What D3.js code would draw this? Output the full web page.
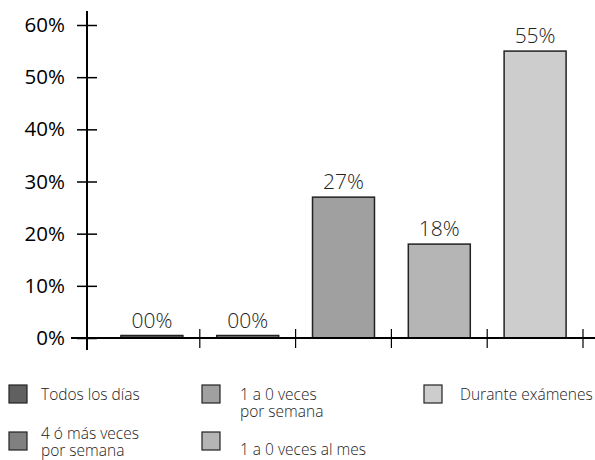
<!DOCTYPE html>
<html>
<head>
<meta charset="utf-8">
<script src="https://cdn.jsdelivr.net/npm/d3@7/dist/d3.min.js"></script>
<style>
  html, body { margin: 0; padding: 0; background: #fff; }
  svg { display: block; }
  .ylab { font-family: "Open Sans", "DejaVu Sans", sans-serif; font-size: 20.5px; fill: #000; }
  .val, .leg { font-family: "Open Sans", "DejaVu Sans", sans-serif; font-weight: 300; fill: #222; }
  .val { font-size: 21px; }
  .leg { font-size: 15.5px; }
</style>
</head>
<body>
<svg id="chart" width="595" height="460"></svg>
<script>
// Frecuencia de uso: porcentaje por categoría
const categories = ["Todos los días", "4 ó más veces por semana", "1 a 0 veces por semana", "1 a 0 veces al mes", "Durante exámenes"];
const values = [0, 0, 27, 18, 55];
const valueLabels = ["00%", "00%", "27%", "18%", "55%"];
const colors = ["#606060", "#808080", "#a0a0a0", "#b5b5b5", "#cdcdcd"];
const yTicks = [0, 10, 20, 30, 40, 50, 60];

// Legend entries (text lines as drawn)
const legendLines = [
  ["Todos los días"],
  ["4 ó más veces", "por semana"],
  ["1 a 0 veces", "por semana"],
  ["1 a 0 veces al mes"],
  ["Durante exámenes"]
];

const svg = d3.select("#chart");

const y = d3.scaleLinear().domain([0, 60]).range([338, 25]);
const x = d3.scaleBand().domain(categories).range([104, 583])
  .paddingInner(0.353).paddingOuter(0.1765);

// Y axis with ticks crossing the axis line
const yAxis = svg.append("g").attr("transform", "translate(87,0)")
  .call(d3.axisLeft(y).tickValues(yTicks).tickFormat(d => d + "%").tickSize(10).tickPadding(12));
yAxis.select(".domain").remove();
yAxis.selectAll(".tick line").attr("x1", 10).attr("x2", -10).attr("stroke", "#000").attr("stroke-width", 1.5);
yAxis.selectAll(".tick text").attr("class", "ylab").attr("fill", null);
yAxis.append("line").attr("x1", 0).attr("x2", 0).attr("y1", 11).attr("y2", 350)
  .attr("stroke", "#000").attr("stroke-width", 2);

// Bars
const zeroStub = 2.5;
svg.append("g").selectAll("rect").data(categories).join("rect")
  .attr("x", d => x(d))
  .attr("width", x.bandwidth())
  .attr("y", (d, i) => Math.min(y(values[i]), y(0) - zeroStub))
  .attr("height", (d, i) => Math.max(y(0) - y(values[i]), zeroStub))
  .attr("fill", (d, i) => colors[i])
  .attr("stroke", "#222")
  .attr("stroke-width", 1.5);

// X axis: baseline plus ticks at the right edge of each category
svg.append("line").attr("x1", 71).attr("x2", 595).attr("y1", y(0)).attr("y2", y(0))
  .attr("stroke", "#000").attr("stroke-width", 2);
svg.append("g").selectAll("line").data(categories).join("line")
  .attr("x1", d => x(d) + x.bandwidth() + x.step() * x.paddingInner() / 2)
  .attr("x2", d => x(d) + x.bandwidth() + x.step() * x.paddingInner() / 2)
  .attr("y1", y(0) - 9).attr("y2", y(0) + 10)
  .attr("stroke", "#000").attr("stroke-width", 1.2);

// Value labels
svg.append("g").selectAll("text").data(categories).join("text")
  .attr("class", "val")
  .attr("x", d => x(d) + x.bandwidth() / 2)
  .attr("y", (d, i) => Math.min(y(values[i]), y(0) - zeroStub) - 8)
  .attr("text-anchor", "middle")
  .text((d, i) => valueLabels[i]);

// Legend
const legPos = [
  { sx: 9, sy: 385, tx: 41, ty: 400 },
  { sx: 9, sy: 432, tx: 41, ty: 439 },
  { sx: 202, sy: 385, tx: 240, ty: 400 },
  { sx: 202, sy: 432, tx: 240, ty: 455 },
  { sx: 424, sy: 385, tx: 460, ty: 400 }
];
const leg = svg.append("g").selectAll("g").data(categories).join("g");
leg.append("rect")
  .attr("x", (d, i) => legPos[i].sx).attr("y", (d, i) => legPos[i].sy)
  .attr("width", 18).attr("height", 18)
  .attr("fill", (d, i) => colors[i]).attr("stroke", "#222").attr("stroke-width", 1.2);
leg.each(function (d, i) {
  const g = d3.select(this);
  legendLines[i].forEach((line, j) => {
    g.append("text").attr("class", "leg")
      .attr("x", legPos[i].tx).attr("y", legPos[i].ty + j * 16.5)
      .text(line);
  });
});
</script>
</body>
</html>
